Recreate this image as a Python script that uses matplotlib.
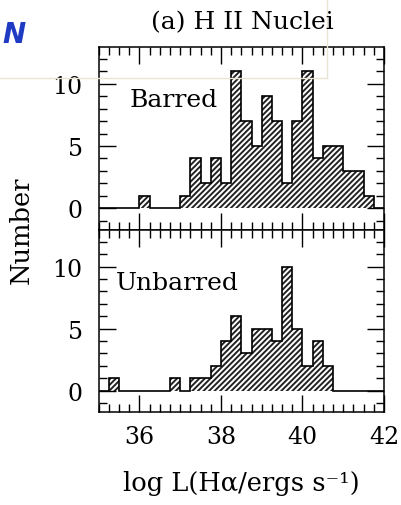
import numpy as np
import matplotlib
matplotlib.use("Agg")
from matplotlib import pyplot as plt
from matplotlib.ticker import MultipleLocator
from matplotlib.lines import Line2D

# histogram bins: log L(Halpha) from 35 to 42 in steps of 0.25
bin_edges = np.arange(35.0, 42.0 + 0.125, 0.25)

barred_counts = [0, 0, 0, 0, 1, 0, 0, 0, 1, 4, 2, 4, 2, 11,
                 7, 5, 9, 7, 2, 7, 11, 4, 5, 5, 3, 3, 1, 0]
unbarred_counts = [0, 1, 0, 0, 0, 0, 0, 1, 0, 1, 1, 2, 4, 6,
                   3, 5, 5, 4, 10, 5, 2, 4, 2, 0, 0, 0, 0, 0]

panel_names = ["Barred", "Unbarred"]
x_ticks = [36, 38, 40, 42]
y_ticks = [0, 5, 10]

title = "(a) H II Nuclei"
xlabel = "log L(H\u03b1/ergs s\u207b\u00b9)"
ylabel = "Number"

plt.rcParams['font.family'] = ['DejaVu Serif']
plt.rcParams['hatch.linewidth'] = 1.4
plt.rcParams['hatch.color'] = '#222222'

fig = plt.figure(figsize=(4.02, 5.06), dpi=100)
ax_top = fig.add_axes([0.2455, 0.5435, 0.7097, 0.3616])
ax_bot = fig.add_axes([0.2455, 0.1832, 0.7097, 0.3603])

label_pos = [(35.75, 8.2), (35.42, 8.17)]

for ax, counts, name, pos in zip([ax_top, ax_bot], [barred_counts, unbarred_counts],
                                 panel_names, label_pos):
    ax.stairs(counts, bin_edges, baseline=0, fill=True, facecolor='white',
              edgecolor='#222222', hatch='//////', linewidth=0)
    ax.stairs(counts, bin_edges, baseline=0, fill=False, color='black', linewidth=1.2)
    ax.set_xlim(35, 42)
    ax.set_ylim(-1.75, 12.95)
    ax.set_xticks(x_ticks)
    ax.set_yticks(y_ticks)
    ax.xaxis.set_minor_locator(MultipleLocator(0.25))
    ax.yaxis.set_minor_locator(MultipleLocator(1))
    ax.tick_params(which='both', direction='in', top=True, right=True, width=1.0,
                   labelsize=17)
    ax.tick_params(which='major', length=12.2)
    ax.tick_params(which='minor', length=5.6)
    ax.tick_params(axis='y', pad=11.5)
    ax.tick_params(axis='x', pad=9)
    for sp in ax.spines.values():
        sp.set_linewidth(1.1)
    ax.text(pos[0], pos[1], name, fontsize=18, va='baseline', ha='left')

ax_top.tick_params(axis='x', labelbottom=False)

fig.text(0.602, 0.955, title, fontsize=18, ha='center', va='center')
fig.text(0.601, 0.045, xlabel, fontsize=18.5, ha='center', va='center')
fig.text(0.052, 0.545, ylabel, fontsize=18.5, ha='center', va='center', rotation=90)

# screenshot leftovers: blue letter and faint frame line
fig.text(0.005, 0.93, "N", fontsize=20, color='#1f3bc4', fontweight='bold',
         fontstyle='italic', family='DejaVu Sans', ha='left', va='center')
fig.add_artist(Line2D([0, 0.813], [0.844, 0.844], color='#e9e5d3', linewidth=1.0))
fig.add_artist(Line2D([0.813, 0.813], [0.844, 1.0], color='#e9e5d3', linewidth=1.0))

fig.savefig("out.png", dpi=100)
